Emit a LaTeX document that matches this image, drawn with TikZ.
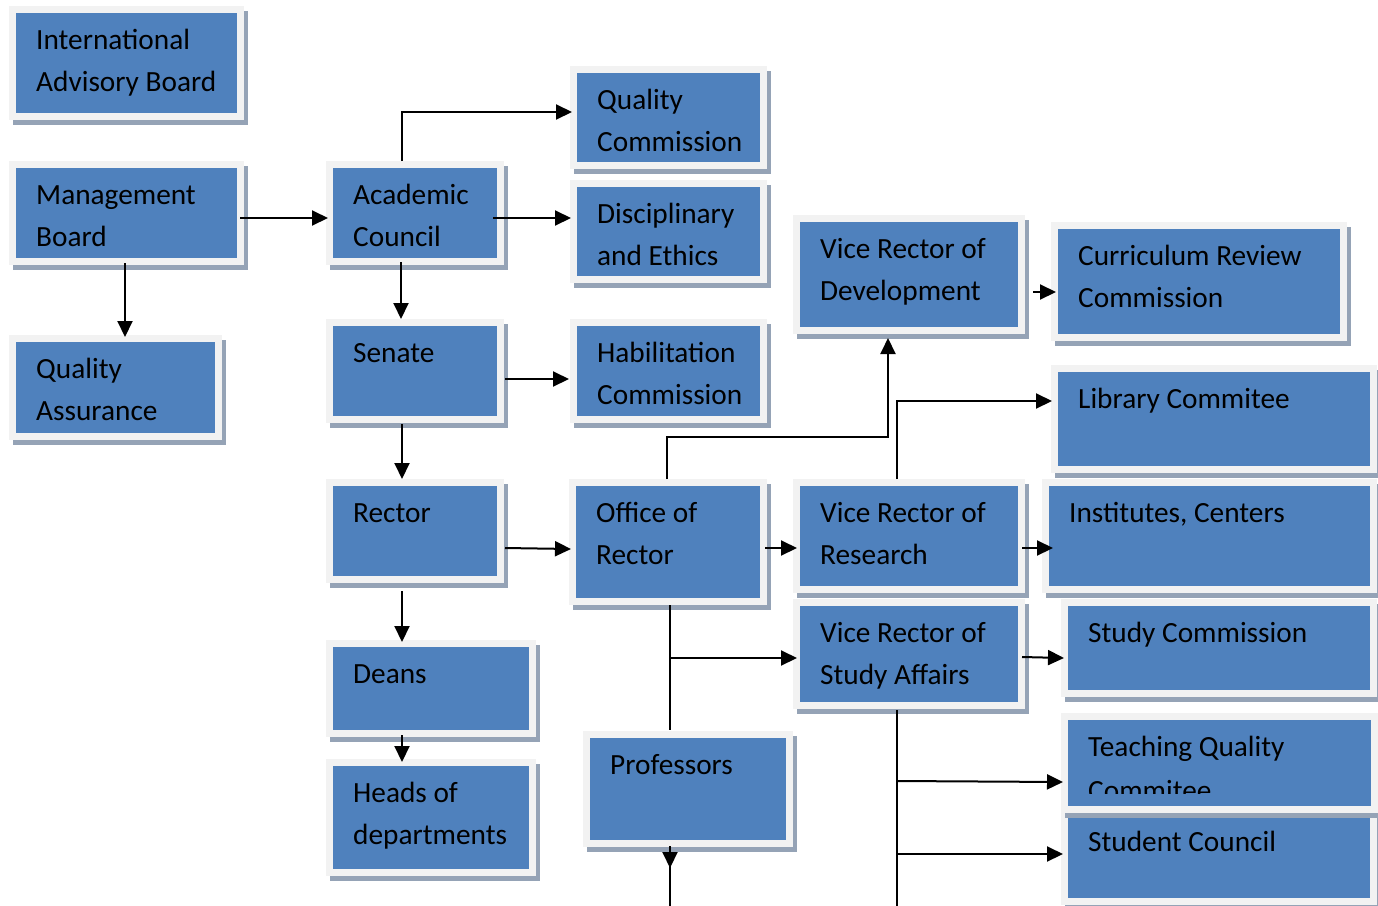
\documentclass[tikz,border=0pt]{standalone}
\usepackage{fontspec}
\setmainfont{Carlito}
\usetikzlibrary{arrows.meta}
\definecolor{boxblue}{HTML}{4F81BD}
\definecolor{outerc}{HTML}{F2F2F2}
\definecolor{shadowc}{HTML}{95A3B6}
\tikzset{
  bluebox/.style={fill=boxblue, inner sep=0pt, outer sep=0pt, anchor=north west},
  boxtext/.style={inner sep=0pt, anchor=base west, font=\fontsize{29.3}{42}\selectfont},
  arr/.style={draw, line width=2pt, -{Triangle[length=16pt,width=15pt]}},
  ln/.style={draw, line width=2pt},
}
% name, x1, y1, x2, y2, text lines (as \hbox{...}\hbox{...})
\newcommand\orgbox[6]{%
  \fill[shadowc] (#2-3,#3-2) rectangle (#4+11,#5+12);
  \fill[outerc] (#2-7,#3-7) rectangle (#4+7,#5+7);
  \node[bluebox, minimum width={(#4-#2)*1pt}, minimum height={(#5-#3)*1pt}] (#1) at (#2,#3) {};
  \node[boxtext] at ([shift={(20,36)}]#1.north west) {\vtop{\baselineskip=42pt #6}};
}
\begin{document}
\begin{tikzpicture}[x=1pt,y=-1pt]
\useasboundingbox (0,0) rectangle (1378,905);
\clip (0,0) rectangle (1378,905);
\orgbox{iab}{16}{13}{237}{113}{\hbox{International}\hbox{Advisory Board}}
\orgbox{mb}{16}{168}{237}{258}{\hbox{Management}\hbox{Board}}
\orgbox{qa}{16}{342}{215}{433}{\hbox{Quality}\hbox{Assurance}}
\orgbox{ac}{333}{168}{497}{258}{\hbox{Academic}\hbox{Council}}
\orgbox{sen}{333}{326}{497}{416}{\hbox{Senate}}
\orgbox{rec}{333}{486}{497}{576}{\hbox{Rector}}
\orgbox{deans}{333}{647}{529}{730}{\hbox{Deans}}
\orgbox{heads}{333}{766}{529}{869}{\hbox{Heads of}\hbox{departments}}
\orgbox{qc}{577}{73}{760}{162}{\hbox{Quality}\hbox{Commission}}
\orgbox{de}{577}{187}{760}{276}{\hbox{Disciplinary}\hbox{and Ethics}}
\orgbox{hab}{577}{326}{760}{416}{\hbox{Habilitation}\hbox{Commission}}
\orgbox{oor}{576}{486}{760}{598}{\hbox{Office of}\hbox{Rector}}
\orgbox{prof}{590}{738}{786}{840}{\hbox{Professors}}
\orgbox{vrd}{800}{222}{1018}{327}{\hbox{Vice Rector of}\hbox{Development}}
\orgbox{vrr}{800}{486}{1018}{586}{\hbox{Vice Rector of}\hbox{Research}}
\orgbox{vrsa}{800}{606}{1018}{702}{\hbox{Vice Rector of}\hbox{Study Affairs}}
\orgbox{crc}{1058}{229}{1340}{334}{\hbox{Curriculum Review}\hbox{Commission}}
\orgbox{lib}{1058}{372}{1370}{466}{\hbox{Library Commitee}}
\orgbox{inst}{1049}{486}{1370}{586}{\hbox{Institutes, Centers}}
\orgbox{sc}{1068}{606}{1370}{690}{\hbox{Study Commission}}
\orgbox{stc}{1068}{815}{1370}{898}{\hbox{Student Council}}
% Teaching Quality box, text clipped inside
\fill[shadowc] (1065,718) rectangle (1382,818);
\fill[outerc] (1061,713) rectangle (1378,813);
\node[bluebox, minimum width=303pt, minimum height=86pt] (tq) at (1068,720) {};
\begin{scope}
\clip (1068,720) rectangle (1371,793);
\node[boxtext] at ([shift={(20,36)}]tq.north west) {\vtop{\baselineskip=44pt \hbox{Teaching Quality}\hbox{Commitee}}};
\end{scope}
% connectors
\draw[arr] ([shift={(3,5)}]mb.east) -- ([shift={(-5,5)}]ac.west);
\draw[arr] ([shift={(-1.5,5)}]mb.south) -- ([shift={(9.5,-5)}]qa.north);
\draw[arr] ([shift={(-13,-7)}]ac.north) |- ([shift={(-5,-5.5)}]qc.west);
\draw[arr] ([shift={(-4,5)}]ac.east) -- ([shift={(-6,-13.5)}]de.west);
\draw[arr] ([shift={(-14,4)}]ac.south) -- ([shift={(-14,-7)}]sen.north);
\draw[arr] ([shift={(8,8)}]sen.east) -- ([shift={(-8,8)}]hab.west);
\draw[arr] ([shift={(-13,8)}]sen.south) -- ([shift={(-13,-7)}]rec.north);
\draw[arr] ([shift={(8,17)}]rec.east) -- ([shift={(-5,7)}]oor.west);
\draw[arr] ([shift={(-13,15)}]rec.south) -- ([shift={(-29,-5)}]deans.north);
\draw[arr] ([shift={(-29,5)}]deans.south) -- ([shift={(-29,-4)}]heads.north);
\draw[arr] ([shift={(-1,-7)}]oor.north) -- ++(0,-42) -| ([shift={(-21,11)}]vrd.south);
\draw[arr] ([shift={(5,6)}]oor.east) -- ([shift={(-3,12)}]vrr.west);
\draw[ln] ([shift={(2,7)}]oor.south) -- ([shift={(-18,-8)}]prof.north);
\draw[arr] ([shift={(2,60)}]oor.south) -- ([shift={(-3,4)}]vrsa.west);
\draw[ln] ([shift={(-18,6)}]prof.south) -- ++(0,70);
\draw[arr] ([shift={(-18,6)}]prof.south) -- ++(0,22);
\draw[arr] ([shift={(15,17.5)}]vrd.east) -- ([shift={(-2,10.5)}]crc.west);
\draw[arr] ([shift={(-12,-7)}]vrr.north) -- ++(0,-78) -- ([shift={(-6,-18)}]lib.west);
\draw[arr] ([shift={(4,12)}]vrr.east) -- ([shift={(4,12)}]inst.west);
\draw[arr] ([shift={(4,3)}]vrsa.east) -- ([shift={(-4,10)}]sc.west);
\draw[ln] ([shift={(-12,8)}]vrsa.south) -- ++(0,210);
\draw[arr] ([shift={(-12,79)}]vrsa.south) -- ([shift={(-5,19)}]tq.west);
\draw[arr] ([shift={(-12,152)}]vrsa.south) -- ([shift={(-5,-2.5)}]stc.west);
\end{tikzpicture}
\end{document}
